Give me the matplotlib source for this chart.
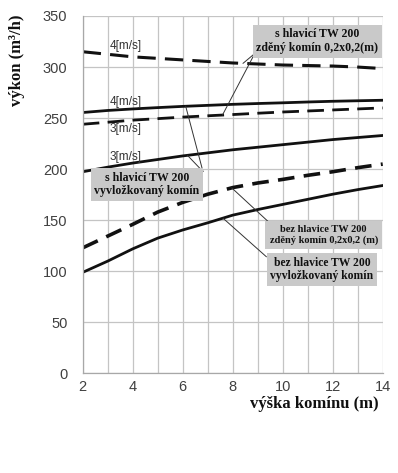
import numpy as np
import matplotlib
matplotlib.use("Agg")
import matplotlib.pyplot as plt

# ---- data ----
x = [2, 3, 4, 5, 6, 7, 8, 9, 10, 11, 12, 13, 14]
s_zdeny_4 = [315, 312.5, 310, 308.5, 307, 305.5, 304, 303, 302, 301.5, 301, 300, 298.5]
s_vyvl_4 = [255.5, 257.5, 259, 260.3, 261.5, 262.5, 263.5, 264.3, 265, 265.8, 266.5, 267, 267.5]
s_zdeny_3 = [244, 246, 248, 249.5, 251, 252.3, 253.5, 254.8, 256, 257, 258, 259, 260]
s_vyvl_3 = [197.5, 202, 206, 209.5, 213, 216, 219, 221.5, 224, 226.5, 229, 231, 233]
bez_zdeny = [123, 134.5, 146, 158, 167.5, 175.5, 182, 186.5, 190, 194, 197.5, 201.5, 205]
bez_vyvl = [99, 110, 122, 132.5, 140.5, 147.5, 155, 160.5, 165.5, 170.5, 175.5, 180, 184]

xticks = [2, 4, 6, 8, 10, 12, 14]
yticks = [0, 50, 100, 150, 200, 250, 300, 350]

speed_labels = ["4[m/s]", "4[m/s]", "3[m/s]", "3[m/s]"]
box_texts = ["s hlavicí TW 200\nzděný komín 0,2x0,2(m)",
             "s hlavicí TW 200\nvyvložkovaný komín",
             "bez hlavice TW 200\nzděný komín 0,2x0,2 (m)",
             "bez hlavice TW 200\nvyvložkovaný komín"]
xlabel = "výška komínu (m)"
ylabel = "výkon (m³/h)"

# ---- figure ----
fig = plt.figure(figsize=(3.98, 4.73), dpi=100)
ax = fig.add_axes([0.2078, 0.2104, 0.7538, 0.7558])
ax.set_xlim(2, 14)
ax.set_ylim(0, 350)

ax.set_xticks(xticks)
ax.set_xticks(x, minor=True)
ax.set_yticks(yticks)
ax.grid(True, which="both", color="#c4c4c4", lw=0.9)
ax.set_axisbelow(True)
for s in ["top", "right"]:
    ax.spines[s].set_visible(False)
for s in ["left", "bottom"]:
    ax.spines[s].set_color("#a8a8a8")
    ax.spines[s].set_linewidth(0.9)
ax.tick_params(axis="both", which="both", length=0, colors="#404040")
ax.tick_params(axis="y", pad=11)
ax.tick_params(axis="x", pad=5)
for lab in ax.get_xticklabels() + ax.get_yticklabels():
    lab.set_fontfamily("Liberation Sans")
    lab.set_fontsize(10.5)
    lab.set_color("#404040")

dash = (6.0, 3.0)
ax.plot(x, s_zdeny_4, color="#111111", lw=2.2, dashes=dash)
ax.plot(x, s_vyvl_4, color="#111111", lw=2.0)
ax.plot(x, s_zdeny_3, color="#111111", lw=2.0, dashes=dash)
ax.plot(x, s_vyvl_3, color="#111111", lw=2.0)
ax.plot(x, bez_zdeny, color="#111111", lw=2.6, dashes=(4.6, 2.6))
ax.plot(x, bez_vyvl, color="#111111", lw=2.0)

# speed labels
for lab, yy in zip(speed_labels, [321, 266, 239, 212]):
    ax.text(3.08, yy, lab, fontsize=8.5, family="Liberation Sans",
            color="#333333", ha="left", va="center")

# boxes
box_pos = [(11.38, 325.4), (4.56, 185), (11.64, 135.7), (11.57, 101.8)]
box_fs = [8.6, 8.6, 7.5, 8.4]
box_pad = [0.3, 0.3, 0.4, 0.3]
for t, (bx, by), fs, pd in zip(box_texts, box_pos, box_fs, box_pad):
    ax.text(bx, by, t, fontsize=fs, family="Liberation Serif", weight="bold",
            ha="center", va="center", color="#111111", linespacing=1.2,
            bbox=dict(boxstyle=f"square,pad={pd}", facecolor="#c9c9c9",
                      edgecolor="none"), zorder=5)

# leader lines: (start point, target x, series)
leaders = [((8.88, 313.2), 8.41, s_zdeny_4),
           ((8.88, 313.2), 7.59, s_zdeny_3),
           ((6.81, 197.7), 6.12, s_vyvl_4),
           ((6.81, 197.7), 6.19, s_vyvl_3),
           ((9.46, 147.8), 7.96, bez_zdeny),
           ((9.35, 114.2), 7.61, bez_vyvl)]
for (sx, sy), tx, ser in leaders:
    ty = np.interp(tx, x, ser)
    ax.annotate("", xy=(tx, ty), xytext=(sx, sy),
                arrowprops=dict(arrowstyle="-", color="#333333", lw=0.7,
                                shrinkA=0, shrinkB=0), zorder=4)

fig.text(17 / 398, 1 - 60 / 473, ylabel, rotation=90, ha="center", va="center",
         fontsize=12, family="Liberation Serif", weight="bold", color="#111111")
fig.text(314 / 398, 1 - 404 / 473, xlabel, ha="center", va="center",
         fontsize=12, family="Liberation Serif", weight="bold", color="#111111")

fig.savefig("out.png", dpi=100, facecolor="white")
